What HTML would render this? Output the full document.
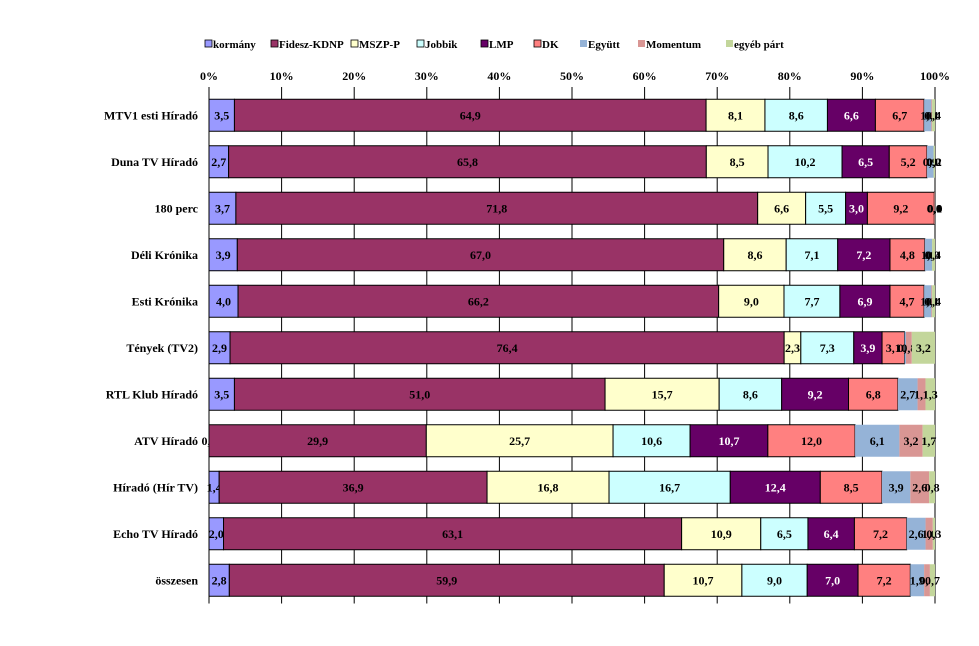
<!DOCTYPE html>
<html><head><meta charset="utf-8"><style>
body{margin:0;background:#fff;}
svg text{font-family:"Liberation Serif",serif;font-weight:bold;}
</style></head><body>
<svg id="chart" width="979" height="641"></svg>
<script>
const categories=["MTV1 esti Híradó","Duna TV Híradó","180 perc","Déli Krónika","Esti Krónika","Tények (TV2)","RTL Klub Híradó","ATV Híradó","Híradó (Hír TV)","Echo TV Híradó","összesen"];
const seriesNames=["kormány","Fidesz-KDNP","MSZP-P","Jobbik","LMP","DK","Együtt","Momentum","egyéb párt"];
const kormany=[3.5,2.7,3.7,3.9,4.0,2.9,3.5,0.0,1.4,2.0,2.8];
const fidesz=[64.9,65.8,71.8,67.0,66.2,76.4,51.0,29.9,36.9,63.1,59.9];
const mszp=[8.1,8.5,6.6,8.6,9.0,2.3,15.7,25.7,16.8,10.9,10.7];
const jobbik=[8.6,10.2,5.5,7.1,7.7,7.3,8.6,10.6,16.7,6.5,9.0];
const lmp=[6.6,6.5,3.0,7.2,6.9,3.9,9.2,10.7,12.4,6.4,7.0];
const dk=[6.7,5.2,9.2,4.8,4.7,3.1,6.8,12.0,8.5,7.2,7.2];
const egyutt=[1.0,0.9,0.0,1.0,1.0,0.2,2.7,6.1,3.9,2.6,1.9];
const momentum=[0.1,0.0,0.1,0.0,0.1,0.8,1.1,3.2,2.6,1.0,0.8];
const egyeb=[0.4,0.2,0.0,0.4,0.4,3.2,1.3,1.7,0.8,0.3,0.7];
const ticks=["0%","10%","20%","30%","40%","50%","60%","70%","80%","90%","100%"];
const series=[kormany,fidesz,mszp,jobbik,lmp,dk,egyutt,momentum,egyeb];
const colors=["#9999ff","#993366","#ffffcc","#ccffff","#660066","#ff8080","#95b3d7","#d99694","#c3d69b"];
const borders=[true,true,true,true,true,true,false,false,false];
const textCol=["#000","#000","#000","#000","#fff","#000","#000","#000","#000"];
const svg=document.getElementById('chart');
const NS="http://www.w3.org/2000/svg";
const x0=209,x1=935,yTop=92,rowH=46.5,barH=32;
const xs=p=>x0+(x1-x0)*p/100;
const yc=i=>yTop+rowH*(i+0.5);
function mk(t,a){const e=document.createElementNS(NS,t);for(const k in a)e.setAttribute(k,a[k]);svg.appendChild(e);return e;}
// gridlines & ticks
ticks.forEach((t,i)=>{
 const x=xs(i*10);
 const g=mk('line',{x1:x,x2:x,y1:yTop-5,y2:yTop+rowH*categories.length,stroke:'#000','stroke-width':1});
 
 
 const tx=mk('text',{x:x,y:80,'text-anchor':'middle','font-size':12});
 tx.textContent=t;
 
 
});
const ax=mk('line',{x1:x0,x2:x0,y1:yTop,y2:yTop+rowH*categories.length,stroke:'#000'});


// bars
categories.forEach((c,i)=>{
 let total=0;series.forEach(s=>total+=s[i]);
 let cum=0;
 const y=yc(i);
 series.forEach((s,k)=>{
  const a=xs(cum/total*100),b=xs((cum+s[i])/total*100);
  cum+=s[i];
  const r=mk('rect',{x:a,y:y-barH/2,width:Math.max(0,b-a),height:barH,fill:colors[k],stroke:borders[k]?'#000':'none','stroke-width':1});
  
  
  const l=mk('text',{x:(a+b)/2,y:y+4,'text-anchor':'middle','font-size':12,fill:textCol[k]});
  l.textContent=s[i].toFixed(1).replace('.',',');
  
  
 });
 const cl=mk('text',{x:198,y:y+4,'text-anchor':'end','font-size':12});
 cl.textContent=c;
 
 
});
// legend
let lx=205;
const widths=[58,72,58,56,45,38,50,80,80];
seriesNames.forEach((n,k)=>{
 const r=mk('rect',{x:lx,y:40,width:7,height:7,fill:colors[k],stroke:borders[k]?'#000':'none','stroke-width':0.8});
 
 
 const t=mk('text',{x:lx+8,y:48,'font-size':11});
 t.textContent=n;
 
 
 lx+=widths[k]+8;
});
</script>
</body></html>
